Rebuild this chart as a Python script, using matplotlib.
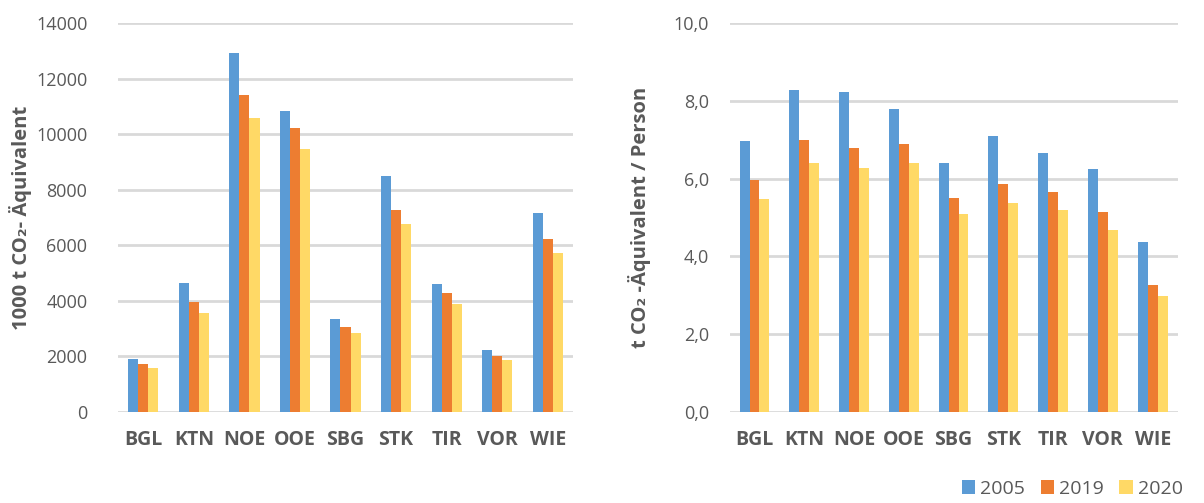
import numpy as np
import matplotlib.pyplot as plt
from matplotlib.ticker import FuncFormatter

plt.rcParams["font.family"] = ["Open Sans", "DejaVu Sans"]

regions = ["BGL", "KTN", "NOE", "OOE", "SBG", "STK", "TIR", "VOR", "WIE"]
years = ["2005", "2019", "2020"]

# 1000 t CO2-Äquivalent
total_2005 = [1915, 4630, 12940, 10850, 3350, 8510, 4600, 2240, 7170]
total_2019 = [1735, 3950, 11400, 10210, 3065, 7265, 4270, 2020, 6210]
total_2020 = [1600, 3580, 10580, 9465, 2850, 6750, 3900, 1880, 5730]

# t CO2-Äquivalent / Person
per_cap_2005 = [6.96, 8.27, 8.24, 7.79, 6.40, 7.09, 6.67, 6.26, 4.36]
per_cap_2019 = [5.97, 6.99, 6.80, 6.90, 5.51, 5.85, 5.65, 5.15, 3.27]
per_cap_2020 = [5.48, 6.40, 6.27, 6.40, 5.09, 5.38, 5.19, 4.69, 2.98]

colors = ["#5B9BD5", "#ED7D31", "#FFD966"]
text_col = "#595959"
grid_col = "#D9D9D9"


def bar_panel(ax, series, ylim, yticks, ylabel, fmt, ypad):
    x = np.arange(len(regions))
    w = 0.2
    handles = []
    for i, vals in enumerate(series):
        h = ax.bar(x + (i - 1) * w, vals, width=w, color=colors[i],
                   label=years[i], zorder=3)
        handles.append(h)
    ax.set_xlim(-0.5, len(regions) - 0.5)
    ax.set_ylim(*ylim)
    ax.set_yticks(yticks)
    ax.yaxis.set_major_formatter(FuncFormatter(fmt))
    ax.set_xticks(x)
    ax.set_xticklabels(regions, fontsize=14, fontweight="bold", color=text_col)
    ax.grid(axis="y", color=grid_col, linewidth=2, zorder=0)
    ax.set_axisbelow(True)
    for side in ("top", "right", "left", "bottom"):
        ax.spines[side].set_visible(False)
    ax.tick_params(axis="y", length=0, pad=ypad, labelsize=13, labelcolor=text_col)
    ax.tick_params(axis="x", length=0, pad=13)
    ax.set_ylabel(ylabel, fontsize=14.5, fontweight="bold", color=text_col)
    return handles


fig = plt.figure(figsize=(12.04, 5.03), dpi=100)
ax1 = fig.add_axes([0.098, 0.181, 0.378, 0.773])
ax2 = fig.add_axes([0.606, 0.181, 0.372, 0.773])

bar_panel(ax1, [total_2005, total_2019, total_2020], (0, 14000),
          np.arange(0, 14001, 2000), "1000 t CO₂- Äquivalent",
          lambda v, p: f"{v:.0f}", 22)
ax1.yaxis.set_label_coords(-0.19, 0.5)

handles = bar_panel(ax2, [per_cap_2005, per_cap_2019, per_cap_2020], (0, 10),
                    np.arange(0, 10.1, 2), "t CO₂ -Äquivalent / Person",
                    lambda v, p: f"{v:.1f}".replace(".", ","), 15)
ax2.yaxis.set_label_coords(-0.175, 0.5)

fig.legend(handles=handles, labels=years, loc="lower right",
           bbox_to_anchor=(0.997, -0.025), ncol=3, frameon=False,
           fontsize=14, handlelength=0.7, handleheight=0.7,
           handletextpad=0.25, columnspacing=0.8, labelcolor=text_col)

fig.savefig("out.png", dpi=100)
